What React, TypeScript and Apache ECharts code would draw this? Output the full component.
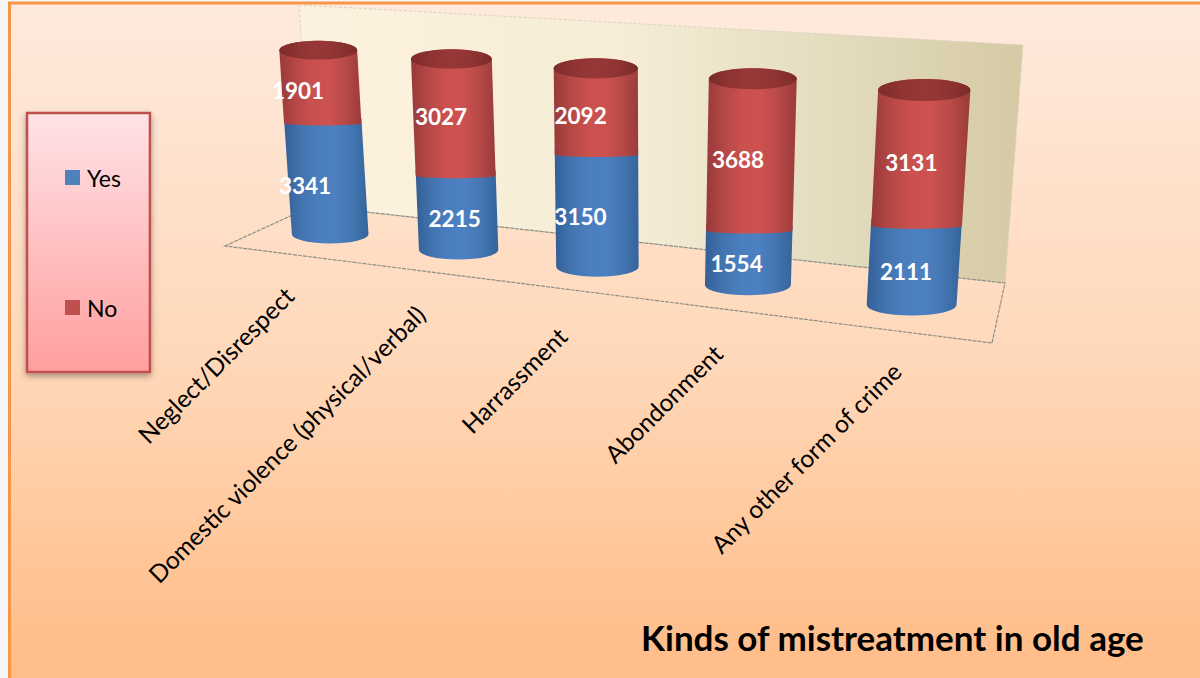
import React, { useEffect, useRef } from "react";
import * as echarts from "echarts";

const categories = [
  "Neglect/Disrespect",
  "Domestic violence (physical/verbal)",
  "Harrassment",
  "Abondonment",
  "Any other form of crime",
];
const yesValues = [3341, 2215, 3150, 1554, 2111];
const noValues = [1901, 3027, 2092, 3688, 3131];
const stackTotal = 5242;

// Perspective of the plot: where the corners of the flat grid land on the page.
const baseLeft = [269.5, 227];
const baseRight = [999, 315.4];
const topRight = [1016, 96];
const topLeft = [255.5, 46];

const wallQuad = [[299, 5], [1023, 45], [1005, 283], [312, 206]];
const floorQuad = [[225, 246], [312, 206], [1005, 283], [992, 343]];

const yesLabelShift = [-21.5, -2.5, -16.5, -12, -8];
const noLabelShift = [-22.5, -12.5, -15.5, -13, -9];
const noLabelDrop = [6, 1, 6, 6, 6];
const tickShift = [-41, -38, -35, -30, -15];
const tickDrop = [57, 60, 65, 64, 62];

const FONT = "Lato, 'Open Sans', sans-serif";
const GRID = { left: 100, top: 50, width: 1000, height: 500 };

function makeHomography() {
  const [x0, y0] = baseLeft;
  const [x1, y1] = baseRight;
  const [x2, y2] = topRight;
  const [x3, y3] = topLeft;
  const dx1 = x1 - x2, dx2 = x3 - x2, sx = x0 - x1 + x2 - x3;
  const dy1 = y1 - y2, dy2 = y3 - y2, sy = y0 - y1 + y2 - y3;
  const den = dx1 * dy2 - dx2 * dy1;
  const g = (sx * dy2 - dx2 * sy) / den;
  const h = (dx1 * sy - sx * dy1) / den;
  const a = x1 - x0 + g * x1, b = x3 - x0 + h * x3, c = x0;
  const d = y1 - y0 + g * y1, e = y3 - y0 + h * y3, f = y0;
  return (u: number, v: number) => {
    const w = g * u + h * v + 1;
    return [(a * u + b * v + c) / w, (d * u + e * v + f) / w];
  };
}
const warp = makeHomography();

function project(pt: number[]) {
  const u = (pt[0] - GRID.left) / GRID.width;
  const v = 1 - (pt[1] - GRID.top) / GRID.height;
  return warp(u, v);
}

function ring(api: any, i: number, value: number) {
  const p = api.coord([i, value]);
  const c = project(p);
  const band = GRID.width / categories.length / 2;
  const l = project([p[0] - band, p[1]]);
  const r = project([p[0] + band, p[1]]);
  const rx = 21 + (r[0] - l[0]) * 0.14;
  return { x: c[0], y: c[1], rx, ry: rx * 0.24 };
}

function grad(stops: string[]) {
  return new echarts.graphic.LinearGradient(
    0, 0, 1, 0,
    stops.map((color, i) => ({ offset: i / (stops.length - 1), color }))
  );
}

const blueFill = () => grad(["#345f96", "#4274b0", "#4b7ebe", "#4d80c0", "#4376b2", "#36649b"]);
const redFill = () => grad(["#98393a", "#b54846", "#ca504e", "#cd5250", "#b84a48", "#9a3b3a"]);
const capFill = () => grad(["#7c2b2a", "#8f3433", "#973837", "#8f3433", "#7c2b2a"]);

function segment(api: any, i: number, from: number, to: number, isBase: boolean, fill: any) {
  const lo = ring(api, i, from);
  const hi = ring(api, i, to);
  const sag = isBase ? lo.ry : lo.ry * 0.25;
  const drop = isBase ? 0 : lo.ry * 0.5;
  const d =
    `M${hi.x - hi.rx} ${hi.y}` +
    `A${hi.rx} ${hi.ry} 0 0 1 ${hi.x + hi.rx} ${hi.y}` +
    `L${lo.x + lo.rx} ${lo.y + drop}` +
    `A${lo.rx} ${sag} 0 0 1 ${lo.x - lo.rx} ${lo.y + drop}Z`;
  return { type: "path", shape: { pathData: d }, style: { fill } };
}

function label(api: any, i: number, from: number, to: number, shift: number, drop: number, value: number) {
  const mid = ring(api, i, (from + to) / 2);
  return {
    type: "text",
    z2: 10,
    style: {
      text: String(value),
      x: mid.x + shift,
      y: mid.y + drop,
      fill: "#ffffff",
      font: `bold 22.5px ${FONT}`,
      align: "center",
      verticalAlign: "middle",
    },
  };
}

function renderYes(_: any, api: any) {
  const i = api.value(0);
  const to = api.value(1);
  return {
    type: "group",
    children: [
      segment(api, i, 0, to, true, blueFill()),
      label(api, i, 0, to, yesLabelShift[i], 8, to),
    ],
  };
}

function renderNo(_: any, api: any) {
  const i = api.value(0);
  const from = api.value(1);
  const no = api.value(2);
  const to = from + no;
  const cap = ring(api, i, to);
  return {
    type: "group",
    children: [
      segment(api, i, from, to, false, redFill()),
      {
        type: "ellipse",
        shape: { cx: cap.x, cy: cap.y, rx: cap.rx, ry: cap.ry },
        style: { fill: capFill() },
      },
      label(api, i, from, to, noLabelShift[i], noLabelDrop[i], no),
    ],
  };
}

function renderTick(_: any, api: any) {
  const i = api.value(0);
  const base = ring(api, i, 0);
  return {
    type: "text",
    x: base.x + tickShift[i],
    y: base.y + tickDrop[i],
    rotation: Math.PI / 4,
    style: {
      text: categories[i],
      fill: "#000000",
      font: `24.5px ${FONT}`,
      align: "right",
      verticalAlign: "middle",
    },
  };
}

const pts = (q: number[][]) => q.map((p) => [p[0], p[1]]);

export default function App() {
  const ref = useRef<HTMLDivElement>(null);
  useEffect(() => {
    document.body.style.margin = "0";
    const chart = echarts.init(ref.current!, undefined, { renderer: "svg" });
    chart.setOption({
      animation: false,
      backgroundColor: "#f6f6f8",
      grid: { ...GRID, containLabel: false },
      xAxis: { type: "category", data: categories, show: false },
      yAxis: { type: "value", min: 0, max: stackTotal, show: false },
      title: {
        text: "Kinds of mistreatment in old age",
        left: 641,
        top: 619,
        padding: 0,
        textStyle: { fontFamily: FONT, fontWeight: "bold", fontSize: 35, color: "#000000" },
      },
      legend: {
        data: ["Yes", "No"],
        orient: "vertical",
        left: 27,
        top: 113,
        padding: [53, 29, 53, 38],
        itemWidth: 15,
        itemHeight: 15,
        itemGap: 107,
        icon: "rect",
        backgroundColor: new echarts.graphic.LinearGradient(0, 0, 0, 1, [
          { offset: 0, color: "#ffe3e6" },
          { offset: 1, color: "#ff9f9f" },
        ]),
        borderColor: "#c0504d",
        borderWidth: 2.5,
        borderRadius: 0,
        shadowBlur: 6,
        shadowColor: "rgba(0,0,0,0.35)",
        shadowOffsetY: 3,
        textStyle: { fontFamily: FONT, fontSize: 23, color: "#000000", padding: [0, 0, 0, 2] },
      },
      graphic: [
        {
          type: "rect",
          z: -10,
          shape: { x: 9.5, y: 3, width: 1250, height: 720 },
          style: {
            fill: new echarts.graphic.LinearGradient(0, 0, 0, 1, [
              { offset: 0, color: "#feeadd" },
              { offset: 0.5, color: "#ffd8b9" },
              { offset: 0.88, color: "#ffbf8c" },
              { offset: 1, color: "#ffbb85" },
            ]),
            stroke: "#f79646",
            lineWidth: 3,
          },
        },
        {
          type: "polygon",
          z: -9,
          shape: { points: pts(wallQuad) },
          style: {
            fill: new echarts.graphic.LinearGradient(0, 0, 1, 0, [
              { offset: 0, color: "#fdf2df" },
              { offset: 0.45, color: "#f5edd6" },
              { offset: 0.75, color: "#e2dbbd" },
              { offset: 1, color: "#d5caa4" },
            ]),
            stroke: "#d9d4c0",
            lineWidth: 1,
            lineDash: [3, 2],
          },
        },
        {
          type: "polygon",
          z: -8,
          shape: { points: pts(floorQuad) },
          style: { fill: "transparent", stroke: "#8f8f86", lineWidth: 1.2, lineDash: [4, 1] },
        },
      ],
      series: [
        {
          name: "Yes",
          type: "custom",
          clip: false,
          silent: true,
          itemStyle: { color: "#4f81bd" },
          renderItem: renderYes,
          encode: { x: 0, y: 1 },
          data: yesValues.map((v, i) => [i, v]),
        },
        {
          name: "No",
          type: "custom",
          clip: false,
          silent: true,
          itemStyle: { color: "#c0504d" },
          renderItem: renderNo,
          encode: { x: 0, y: 1 },
          data: noValues.map((v, i) => [i, yesValues[i], v]),
        },
        {
          name: "Categories",
          type: "custom",
          clip: false,
          silent: true,
          renderItem: renderTick,
          encode: { x: 0 },
          data: categories.map((_, i) => [i]),
        },
      ],
    });
    return () => chart.dispose();
  }, []);
  return <div ref={ref} style={{ width: 1200, height: 678, overflow: "hidden" }} />;
}
